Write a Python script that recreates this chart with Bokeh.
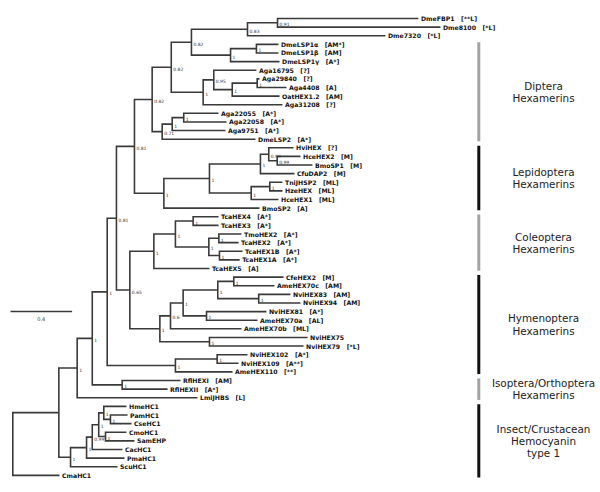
from bokeh.plotting import figure
from bokeh.models import ColumnDataSource, Range1d
from bokeh.core.properties import value
from bokeh.embed import file_html
from bokeh.resources import INLINE

# ---------------- data ----------------
leaf_names = ["DmeFBP1", "Dme8100", "Dme7320", "DmeLSP1α", "DmeLSP1β", "DmeLSP1γ",
              "Aga16795", "Aga29840", "Aga4408", "OatHEX1.2", "Aga31208", "Aga22055",
              "Aga22058", "Aga9751", "DmeLSP2", "HviHEX", "HceHEX2", "BmoSP1", "CfuDAP2",
              "TniJHSP2", "HzeHEX", "HceHEX1", "BmoSP2", "TcaHEX4", "TcaHEX3", "TmoHEX2",
              "TcaHEX2", "TcaHEX1B", "TcaHEX1A", "TcaHEX5", "CfeHEX2", "AmeHEX70c",
              "NviHEX83", "NviHEX94", "NviHEX81", "AmeHEX70a", "AmeHEX70b", "NviHEX75",
              "NviHEX79", "NviHEX102", "NviHEX109", "AmeHEX110", "RflHEXI", "RflHEXII",
              "LmiJHBS", "HmeHC1", "PamHC1", "CseHC1", "CmoHC1", "SamEHP", "CacHC1",
              "PmaHC1", "ScuHC1", "CmaHC1"]
leaf_tags = ["[**L]", "[*L]", "[*L]", "[AM*]", "[AM]", "[A*]",
             "[?]", "[?]", "[A]", "[AM]", "[?]", "[A*]",
             "[A*]", "[A*]", "[A*]", "[?]", "[M]", "[M]", "[M]",
             "[ML]", "[ML]", "[ML]", "[A]", "[A*]", "[A*]", "[A*]",
             "[A*]", "[A*]", "[A*]", "[A]", "[M]", "[AM]",
             "[AM]", "[AM]", "[A*]", "[AL]", "[ML]", "",
             "[*L]", "[A*]", "[A**]", "[**]", "[AM]", "[A*]",
             "[L]", "", "", "", "", "", "",
             "", "", ""]
leaf_parent = ["A", "A", "B", "E", "E", "D", "H", "J", "J", "I", "G", "M",
               "M", "N", "O", "R", "S", "S", "T", "W", "W", "V", "Q", "C3", "C3", "C5",
               "C5", "C6", "C6", "C1", "H5", "H5", "H6", "H6", "H7", "H7", "H2", "H8",
               "H8", "N102", "N102", "N110", "Rfl", "Rfl", "AB", "HC5", "HC6", "HC6",
               "HC7", "HC7", "HC3", "HC2", "HC1", "root"]
# distance from root (substitutions per site)
leaf_depth = [2.634, 2.777, 2.420, 1.725, 1.725, 1.732, 1.582, 1.602, 1.777, 1.732, 1.751,
              1.336, 1.388, 1.381, 1.576, 1.823, 1.868, 1.946, 1.829, 1.751, 1.751, 1.725,
              1.602, 1.336, 1.336, 1.485, 1.466, 1.492, 1.473, 1.277, 1.758, 1.699, 1.803,
              1.868, 1.647, 1.589, 1.485, 1.914, 1.888, 1.524, 1.466, 1.427, 1.089, 1.005,
              1.199, 0.738, 0.745, 0.771, 0.738, 0.790, 0.712, 0.725, 0.680, 0.303]

# internal nodes
node_ids = ["root", "AC", "AB", "AA", "Z", "X", "P", "K", "F", "C", "B", "A", "D", "E",
            "G", "H", "I", "J", "O", "N", "M", "Q", "U", "T", "R", "S", "V", "W", "Y",
            "C1", "C2", "C3", "C4", "C5", "C6", "H1", "H2", "H3", "H4", "H5", "H6", "H7",
            "H8", "N110", "N102", "Rfl", "HC1", "HC2", "HC3", "HC4", "HC5", "HC6", "HC7"]
node_parent = [None, "root", "AC", "AB", "AA", "Z", "X", "P", "K", "F", "C", "B", "C", "D",
               "F", "G", "H", "I", "K", "O", "N", "P", "Q", "U", "T", "R", "U", "V", "X",
               "Y", "C1", "C2", "C2", "C4", "C4", "Y", "H1", "H2", "H3", "H4", "H4", "H3",
               "H1", "Z", "N110", "AA", "AC", "HC1", "HC2", "HC3", "HC4", "HC5", "HC4"]
node_depth = [0.0, 0.299, 0.418, 0.516, 0.613, 0.673, 0.790, 0.905, 1.029, 1.160, 1.524,
              1.719, 1.414, 1.582, 1.236, 1.305, 1.425, 1.587, 0.970, 1.035, 1.110, 0.981,
              1.277, 1.608, 1.662, 1.717, 1.548, 1.669, 0.760, 0.916, 1.056, 1.171, 1.273,
              1.338, 1.342, 0.955, 1.024, 1.106, 1.331, 1.435, 1.597, 1.258, 1.277, 1.056,
              1.327, 0.710, 0.375, 0.479, 0.516, 0.558, 0.591, 0.634, 0.602]
node_support = ["", "", "1", "1", "1", "0.81", "0.81", "0.82", "0.82", "0.82", "0.83",
                "0.91", "1", "1", "1", "0.95", "1", "1", "0.71", "1", "1", "1",
                "1", "1", "0.99", "0.99", "1", "1", "0.65", "1", "1", "1", "1",
                "1", "1", "1", "0.6", "1", "1", "1", "1", "1", "1", "1",
                "1", "1", "1", "1", "0.99", "1", "1", "1", "1"]

group_labels = ["Diptera\nHexamerins", "Lepidoptera\nHexamerins", "Coleoptera\nHexamerins",
                "Hymenoptera\nHexamerins", "Isoptera/Orthoptera\nHexamerins",
                "Insect/Crustacean\nHemocyanin\ntype 1"]
group_first = ["DmeLSP1α", "HviHEX", "TcaHEX4", "CfeHEX2", "RflHEXI", "HmeHC1"]
group_last = ["DmeLSP2", "BmoSP2", "TcaHEX5", "AmeHEX110", "LmiJHBS", "CmaHC1"]

scale_value = 0.4

# ---------------- layout ----------------
LEAF_SEP = 1.0
group_colors = ["#a3a3a3", "#111111", "#a3a3a3", "#111111", "#a3a3a3", "#111111"]

# ---------------- build tree ----------------
children = {n: [] for n in node_ids}
pos = {}
for i, (nm, par, d) in enumerate(zip(leaf_names, leaf_parent, leaf_depth)):
    pos[nm] = (d, i * LEAF_SEP)
    children[par].append(nm)
for nid, par in zip(node_ids, node_parent):
    if par is not None:
        children[par].append(nid)
depth_of = dict(zip(node_ids, node_depth))


def node_y(n):
    if n in pos:
        return pos[n][1]
    ys = [node_y(c) for c in children[n]]
    y = (min(ys) + max(ys)) / 2.0
    pos[n] = (depth_of[n], y)
    return y


node_y("root")

xs, ys = [], []
for n in node_ids:
    ch = sorted(children[n], key=lambda c: pos[c][1])
    d = pos[n][0]
    top, bot = ch[0], ch[-1]
    xs.append([pos[top][0], d, d, pos[bot][0]])
    ys.append([pos[top][1], pos[top][1], pos[bot][1], pos[bot][1]])
    for c in ch[1:-1]:
        xs.append([d, pos[c][0]])
        ys.append([pos[c][1], pos[c][1]])

# canvas mapping (screen pixels of the 598x490 figure)
W, H = 598, 490
PX_UNIT = 154.0      # pixels per substitution unit
ROOT_PX = 12.3       # root position
Y0_PX = 18.0         # first leaf row
ROW_PX = 8.62        # row spacing
x_start = (0 - ROOT_PX) / PX_UNIT
x_end = (W - ROOT_PX) / PX_UNIT
y_top = (0 - Y0_PX) / ROW_PX
y_bot = (H - Y0_PX) / ROW_PX
BAR_X = (478.3 - ROOT_PX) / PX_UNIT
GLABEL_X = (543 - ROOT_PX) / PX_UNIT

p = figure(width=W, height=H, x_range=Range1d(x_start, x_end),
           y_range=Range1d(y_bot, y_top), output_backend="svg",
           toolbar_location=None, min_border=0,
           x_axis_location=None, y_axis_location=None)
p.grid.visible = False
p.outline_line_color = None
p.background_fill_color = "white"
p.border_fill_color = "white"

p.multi_line(xs=xs, ys=ys, line_color="#3a3a3a", line_width=1.6, line_join="miter")

# leaf labels
lab = [nm + ("\u00a0\u00a0\u00a0" + t if t else "") for nm, t in zip(leaf_names, leaf_tags)]
leaf_src = ColumnDataSource(dict(x=[pos[n][0] for n in leaf_names],
                                 y=[pos[n][1] for n in leaf_names], t=lab))
p.text(x="x", y="y", text="t", source=leaf_src, x_offset=2.5,
       text_baseline="middle", text_align="left", text_font=value("DejaVu Sans"),
       text_font_style="bold", text_font_size="6.2px", text_color="#111111")

# support values
sup = [(pos[n][0], pos[n][1], s) for n, s in zip(node_ids, node_support) if s]
sup_src = ColumnDataSource(dict(x=[a for a, _, _ in sup], y=[b for _, b, _ in sup],
                                t=[c for _, _, c in sup]))
p.text(x="x", y="y", text="t", source=sup_src, x_offset=2, y_offset=1.5,
       text_baseline="middle", text_align="left", text_font=value("DejaVu Sans"),
       text_font_size="4.5px", text_color="#333333")

# group bars and labels
gy0 = [pos[a][1] - 0.25 for a in group_first]
gy1 = [pos[b][1] + 0.25 for b in group_last]
p.segment(x0=[BAR_X] * len(gy0), y0=gy0, x1=[BAR_X] * len(gy0), y1=gy1,
          line_color=group_colors, line_width=3)
p.text(x=[GLABEL_X] * len(gy0), y=[(a + b) / 2 for a, b in zip(gy0, gy1)],
       text=group_labels, text_align="center", text_baseline="middle",
       text_font=value("DejaVu Sans"), text_font_size="10.4px",
       text_line_height=1.02, text_color="#222222")

# scale bar
sb_x0 = (10 - ROOT_PX) / PX_UNIT
sb_y = (311 - Y0_PX) / ROW_PX
p.segment(x0=[sb_x0], y0=[sb_y], x1=[sb_x0 + scale_value], y1=[sb_y],
          line_color="#3a3a3a", line_width=1.6)
p.text(x=[sb_x0 + scale_value / 2], y=[sb_y], text=[str(scale_value)], y_offset=7,
       text_align="center", text_baseline="middle", text_font=value("DejaVu Sans"),
       text_font_size="5px", text_color="#333333")

open("out.html", "w").write(file_html(p, INLINE))
